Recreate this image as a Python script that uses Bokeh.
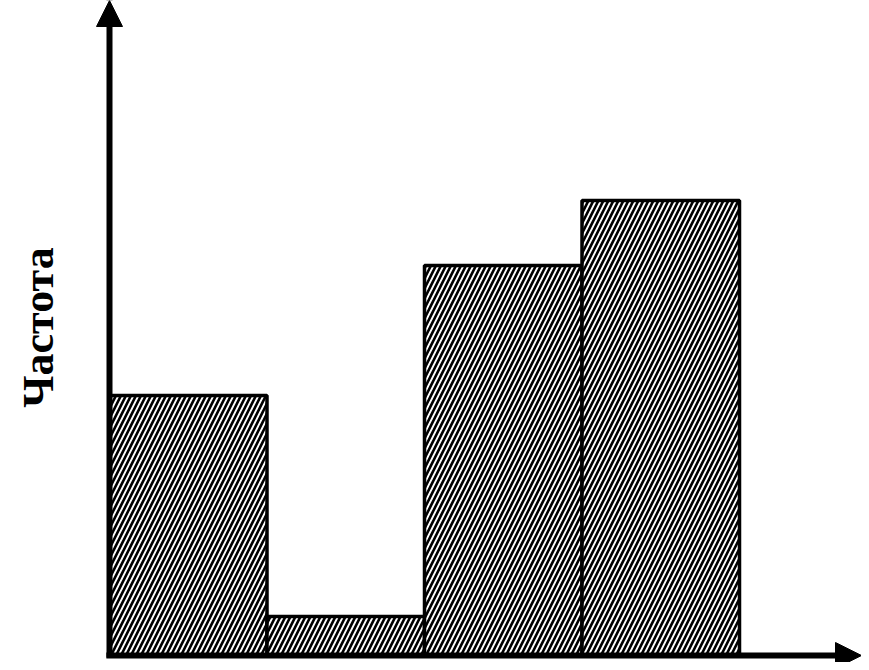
from bokeh.plotting import figure
from bokeh.models import Range1d, Arrow, NormalHead, Label
from bokeh.embed import file_html
from bokeh.resources import INLINE

# data
bin_left = [0, 1, 2, 3]
bin_right = [1, 2, 3, 4]
frequency = [4.0, 0.6, 6.0, 7.0]
y_label = "Частота"

W, H = 861, 662
px_x, px_y = 157.5, 65.0   # pixels per data unit
x0_px, y0_px = 109, 655    # canvas position of the origin

p = figure(width=W, height=H, output_backend="svg", toolbar_location=None,
           x_range=Range1d(-x0_px / px_x, (W - x0_px) / px_x),
           y_range=Range1d(-(H - y0_px) / px_y, y0_px / px_y),
           min_border=0, min_border_left=0, min_border_right=0,
           min_border_top=0, min_border_bottom=0)
p.axis.visible = False
p.grid.visible = False
p.outline_line_color = None
p.background_fill_color = "white"
p.border_fill_color = "white"

p.quad(left=bin_left, right=bin_right, bottom=0, top=frequency,
       fill_color="white", line_color="black", line_width=3.5,
       hatch_pattern="/", hatch_color="black", hatch_weight=2.6, hatch_scale=10)

# axes with arrows
p.add_layout(Arrow(x_start=0, y_start=-0.03, x_end=0, y_end=p.y_range.end,
                   line_width=6, line_color="black",
                   end=NormalHead(size=26, fill_color="black", line_color="black")))
p.add_layout(Arrow(x_start=-0.02, y_start=0, x_end=p.x_range.end, y_end=0,
                   line_width=6, line_color="black",
                   end=NormalHead(size=26, fill_color="black", line_color="black")))

p.add_layout(Label(x=-x0_px / px_x + 38 / px_x, y=(y0_px - 327) / px_y, text=y_label,
                   angle=1.5707963, text_align="center", text_baseline="middle",
                   text_font="Liberation Serif", text_font_style="bold",
                   text_font_size="44px", text_color="black"))

open("out.html", "w").write(file_html(p, INLINE))
